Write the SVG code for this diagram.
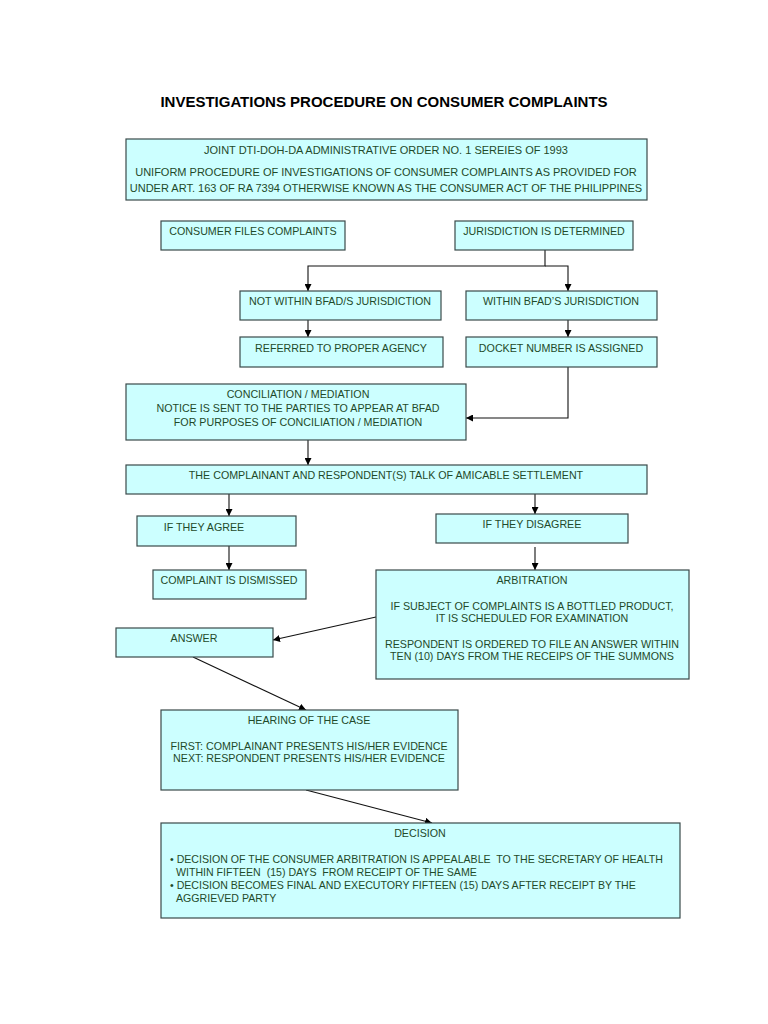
<svg xmlns="http://www.w3.org/2000/svg" width="768" height="1024" viewBox="0 0 768 1024">
<defs>
<style>
.b{fill:#ccffff;stroke:#3a4a4a;stroke-width:1.2}
.t{font-family:"Liberation Sans",Arial,sans-serif;font-size:10.7px;fill:#1f4a2a;text-anchor:middle;white-space:pre}
.w{font-size:11px}
.d{font-size:10.6px;text-anchor:start}
.c{fill:none;stroke:#111;stroke-width:1.1}
.h{font-family:"Liberation Sans",Arial,sans-serif;font-size:15px;font-weight:bold;fill:#000;text-anchor:middle}
</style>
<marker id="a" viewBox="0 0 10 10" refX="10" refY="5" markerWidth="7" markerHeight="7" orient="auto" markerUnits="userSpaceOnUse"><path d="M0,0L10,5L0,10z" fill="#000"/></marker>
</defs>
<rect width="768" height="1024" fill="#fff"/>
<text class="h" x="384" y="107">INVESTIGATIONS PROCEDURE ON CONSUMER COMPLAINTS</text>
<g id="connectors">
<path class="c" d="M545,250V266H308V291" marker-end="url(#a)"/>
<path class="c" d="M545,266H568V291" marker-end="url(#a)"/>
<path class="c" d="M308,320V337" marker-end="url(#a)"/>
<path class="c" d="M568,320V337" marker-end="url(#a)"/>
<path class="c" d="M568,367V418H466" marker-end="url(#a)"/>
<path class="c" d="M308,440V465" marker-end="url(#a)"/>
<path class="c" d="M229,494V516" marker-end="url(#a)"/>
<path class="c" d="M535,494V514" marker-end="url(#a)"/>
<path class="c" d="M229,546V570" marker-end="url(#a)"/>
<path class="c" d="M535,547V570" marker-end="url(#a)"/>
<path class="c" d="M376,617L273,640" marker-end="url(#a)"/>
<path class="c" d="M193,657L306,710" marker-end="url(#a)"/>
<path class="c" d="M306,790L432,823" marker-end="url(#a)"/>
</g>
<g id="order"><rect class="b" x="126" y="139" width="521" height="61"/>
<text class="t w" x="386" y="154">JOINT DTI-DOH-DA ADMINISTRATIVE ORDER NO. 1 SEREIES OF 1993</text>
<text class="t w" x="386" y="176">UNIFORM PROCEDURE OF INVESTIGATIONS OF CONSUMER COMPLAINTS AS PROVIDED FOR</text>
<text class="t w" x="386" y="192">UNDER ART. 163 OF RA 7394 OTHERWISE KNOWN AS THE CONSUMER ACT OF THE PHILIPPINES</text></g>
<g id="files"><rect class="b" x="161" y="221" width="184" height="29"/><text class="t" x="253" y="235">CONSUMER FILES COMPLAINTS</text></g>
<g id="jurisdiction"><rect class="b" x="455" y="221" width="178" height="29"/><text class="t" x="544" y="235">JURISDICTION IS DETERMINED</text></g>
<g id="notwithin"><rect class="b" x="240" y="291" width="201" height="29"/><text class="t" x="340" y="305">NOT WITHIN BFAD/S JURISDICTION</text></g>
<g id="within"><rect class="b" x="466" y="291" width="191" height="29"/><text class="t" x="561" y="305">WITHIN BFAD’S JURISDICTION</text></g>
<g id="referred"><rect class="b" x="240" y="337" width="203" height="30"/><text class="t" x="341" y="352">REFERRED TO PROPER AGENCY</text></g>
<g id="docket"><rect class="b" x="466" y="337" width="191" height="30"/><text class="t" x="561" y="352">DOCKET NUMBER IS ASSIGNED</text></g>
<g id="conciliation"><rect class="b" x="126" y="384" width="340" height="56"/>
<text class="t" x="298" y="398">CONCILIATION / MEDIATION</text>
<text class="t" x="298" y="412">NOTICE IS SENT TO THE PARTIES TO APPEAR AT BFAD</text>
<text class="t" x="298" y="426">FOR PURPOSES OF CONCILIATION / MEDIATION</text></g>
<g id="amicable"><rect class="b" x="126" y="465" width="521" height="29"/><text class="t" x="386" y="479">THE COMPLAINANT AND RESPONDENT(S) TALK OF AMICABLE SETTLEMENT</text></g>
<g id="agree"><rect class="b" x="137" y="516" width="159" height="30"/><text class="t" x="204" y="531">IF THEY AGREE</text></g>
<g id="disagree"><rect class="b" x="436" y="514" width="192" height="29"/><text class="t" x="532" y="528">IF THEY DISAGREE</text></g>
<g id="dismissed"><rect class="b" x="153" y="570" width="153" height="29"/><text class="t" x="229" y="584">COMPLAINT IS DISMISSED</text></g>
<g id="arbitration"><rect class="b" x="376" y="570" width="313" height="109"/>
<text class="t" x="532" y="584">ARBITRATION</text>
<text class="t" x="532" y="610">IF SUBJECT OF COMPLAINTS IS A BOTTLED PRODUCT,</text>
<text class="t" x="532" y="622">IT IS SCHEDULED FOR EXAMINATION</text>
<text class="t" x="532" y="648">RESPONDENT IS ORDERED TO FILE AN ANSWER WITHIN</text>
<text class="t" x="532" y="660">TEN (10) DAYS FROM THE RECEIPS OF THE SUMMONS</text></g>
<g id="answer"><rect class="b" x="116" y="628" width="157" height="29"/><text class="t" x="194" y="642">ANSWER</text></g>
<g id="hearing"><rect class="b" x="161" y="710" width="297" height="80"/>
<text class="t" x="309" y="724">HEARING OF THE CASE</text>
<text class="t" x="309" y="750">FIRST: COMPLAINANT PRESENTS HIS/HER EVIDENCE</text>
<text class="t" x="309" y="762">NEXT: RESPONDENT PRESENTS HIS/HER EVIDENCE</text></g>
<g id="decision"><rect class="b" x="161" y="823" width="519" height="95"/>
<text class="t" x="420" y="837">DECISION</text>
<text class="t d" x="170" y="863">• DECISION OF THE CONSUMER ARBITRATION IS APPEALABLE  TO THE SECRETARY OF HEALTH</text>
<text class="t d" x="176" y="876">WITHIN FIFTEEN  (15) DAYS  FROM RECEIPT OF THE SAME</text>
<text class="t d" x="170" y="889">• DECISION BECOMES FINAL AND EXECUTORY FIFTEEN (15) DAYS AFTER RECEIPT BY THE</text>
<text class="t d" x="176" y="902">AGGRIEVED PARTY</text></g>
</svg>
